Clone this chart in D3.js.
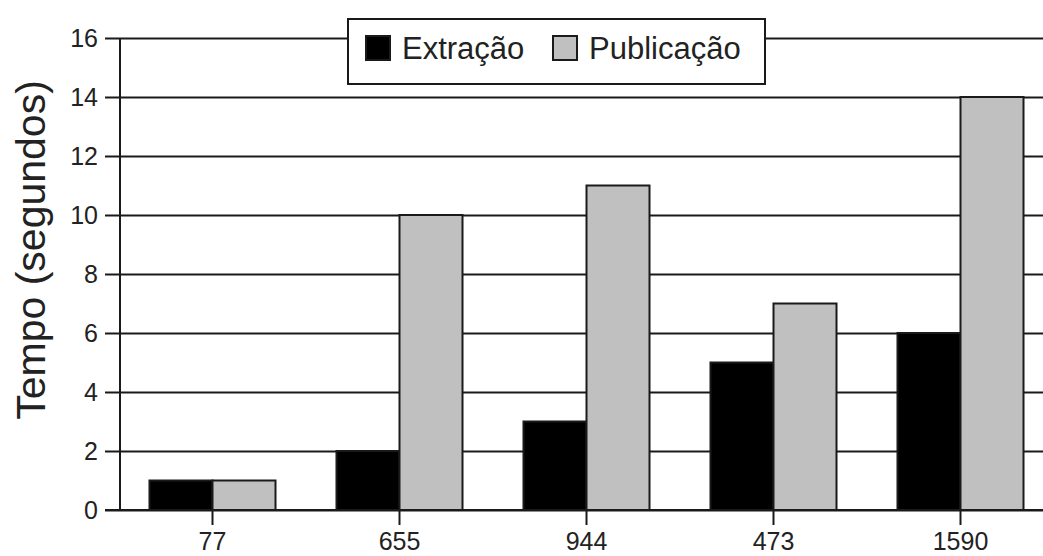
<!DOCTYPE html>
<html>
<head>
<meta charset="utf-8">
<script src="https://cdn.jsdelivr.net/npm/d3@7"></script>
<style>
  body { margin: 0; background: #fff; }
  svg { display: block; font-family: "Liberation Sans", Arial, sans-serif; }
</style>
</head>
<body>
<div id="container"></div>
<script>
// chart values
var categories = ['77', '655', '944', '473', '1590'];
var seriesNames = ['Extração', 'Publicação'];
var extracao = [1, 2, 3, 5, 6];
var publicacao = [1, 10, 11, 7, 14];
var yTicks = [0, 2, 4, 6, 8, 10, 12, 14, 16];
var seriesColors = ['#000000', '#c0c0c0'];

var w = 1043;
var h = 556;

var svg = d3.select('#container')
    .append('svg')
    .attr('width', w)
    .attr('height', h);

// scales
var x0 = d3.scaleBand()
    .domain(categories)
    .range([119, 1054]);

var x1 = d3.scaleBand()
    .domain(seriesNames)
    .range([0, x0.bandwidth()])
    .paddingOuter(0.484);

var y = d3.scaleLinear()
    .domain([0, 16])
    .range([510, 38]);

var ink = '#1a1a1a';

// horizontal gridlines (y axis ticks stretched across)
var yAxis = d3.axisLeft(y)
    .tickValues(yTicks)
    .tickSize(-(w - 105))
    .tickPadding(7)
    .tickFormat(d3.format('d'));

var yg = svg.append('g')
    .attr('transform', 'translate(105,0)')
    .call(yAxis);
yg.select('.domain').remove();
yg.selectAll('.tick line')
    .attr('stroke', ink)
    .attr('stroke-width', 2);
yg.selectAll('.tick text')
    .attr('fill', '#222')
    .style('font-size', '25px');

// bars
var rows = categories.map(function(c, i) {
    return { cat: c, vals: [extracao[i], publicacao[i]] };
});

var groups = svg.selectAll('g.grp')
    .data(rows)
    .enter()
    .append('g')
    .attr('class', 'grp')
    .attr('transform', function(d) { return 'translate(' + x0(d.cat) + ',0)'; });

groups.selectAll('rect')
    .data(function(d) {
        return d.vals.map(function(v, j) { return { name: seriesNames[j], v: v, j: j }; });
    })
    .enter()
    .append('rect')
    .attr('x', function(d) { return x1(d.name); })
    .attr('y', function(d) { return y(d.v); })
    .attr('width', x1.bandwidth())
    .attr('height', function(d) { return y(0) - y(d.v); })
    .attr('fill', function(d) { return seriesColors[d.j]; })
    .attr('stroke', ink)
    .attr('stroke-width', 2);

// y axis line
svg.append('line')
    .attr('x1', 120).attr('x2', 120)
    .attr('y1', y(16)).attr('y2', y(0))
    .attr('stroke', ink)
    .attr('stroke-width', 2);

// x axis
var xAxis = d3.axisBottom(x0)
    .tickSize(15)
    .tickPadding(7);

var xg = svg.append('g')
    .attr('transform', 'translate(0,' + y(0) + ')')
    .call(xAxis);
xg.select('.domain').remove();
xg.selectAll('.tick line')
    .attr('stroke', ink)
    .attr('stroke-width', 2);
xg.selectAll('.tick text')
    .attr('fill', '#222')
    .style('font-size', '25px');

// baseline
svg.append('line')
    .attr('x1', 105).attr('x2', w)
    .attr('y1', y(0)).attr('y2', y(0))
    .attr('stroke', ink)
    .attr('stroke-width', 2);

// y axis title
svg.append('text')
    .attr('transform', 'translate(45,' + ((82 + 418) / 2) + ') rotate(-90)')
    .attr('text-anchor', 'middle')
    .attr('fill', '#222')
    .style('font-size', '41px')
    .text('Tempo (segundos)');

// legend
var legend = svg.append('g');
legend.append('rect')
    .attr('x', 348).attr('y', 19)
    .attr('width', 417).attr('height', 65)
    .attr('fill', '#fff')
    .attr('stroke', ink)
    .attr('stroke-width', 2);

var legendX = [366, 553];
seriesNames.forEach(function(name, i) {
    legend.append('rect')
        .attr('x', legendX[i]).attr('y', 36)
        .attr('width', 24).attr('height', 24)
        .attr('fill', seriesColors[i])
        .attr('stroke', ink)
        .attr('stroke-width', 2);
    legend.append('text')
        .attr('x', legendX[i] + 36)
        .attr('y', 59)
        .attr('fill', '#222')
        .style('font-size', '31px')
        .text(name);
});
</script>
</body>
</html>
